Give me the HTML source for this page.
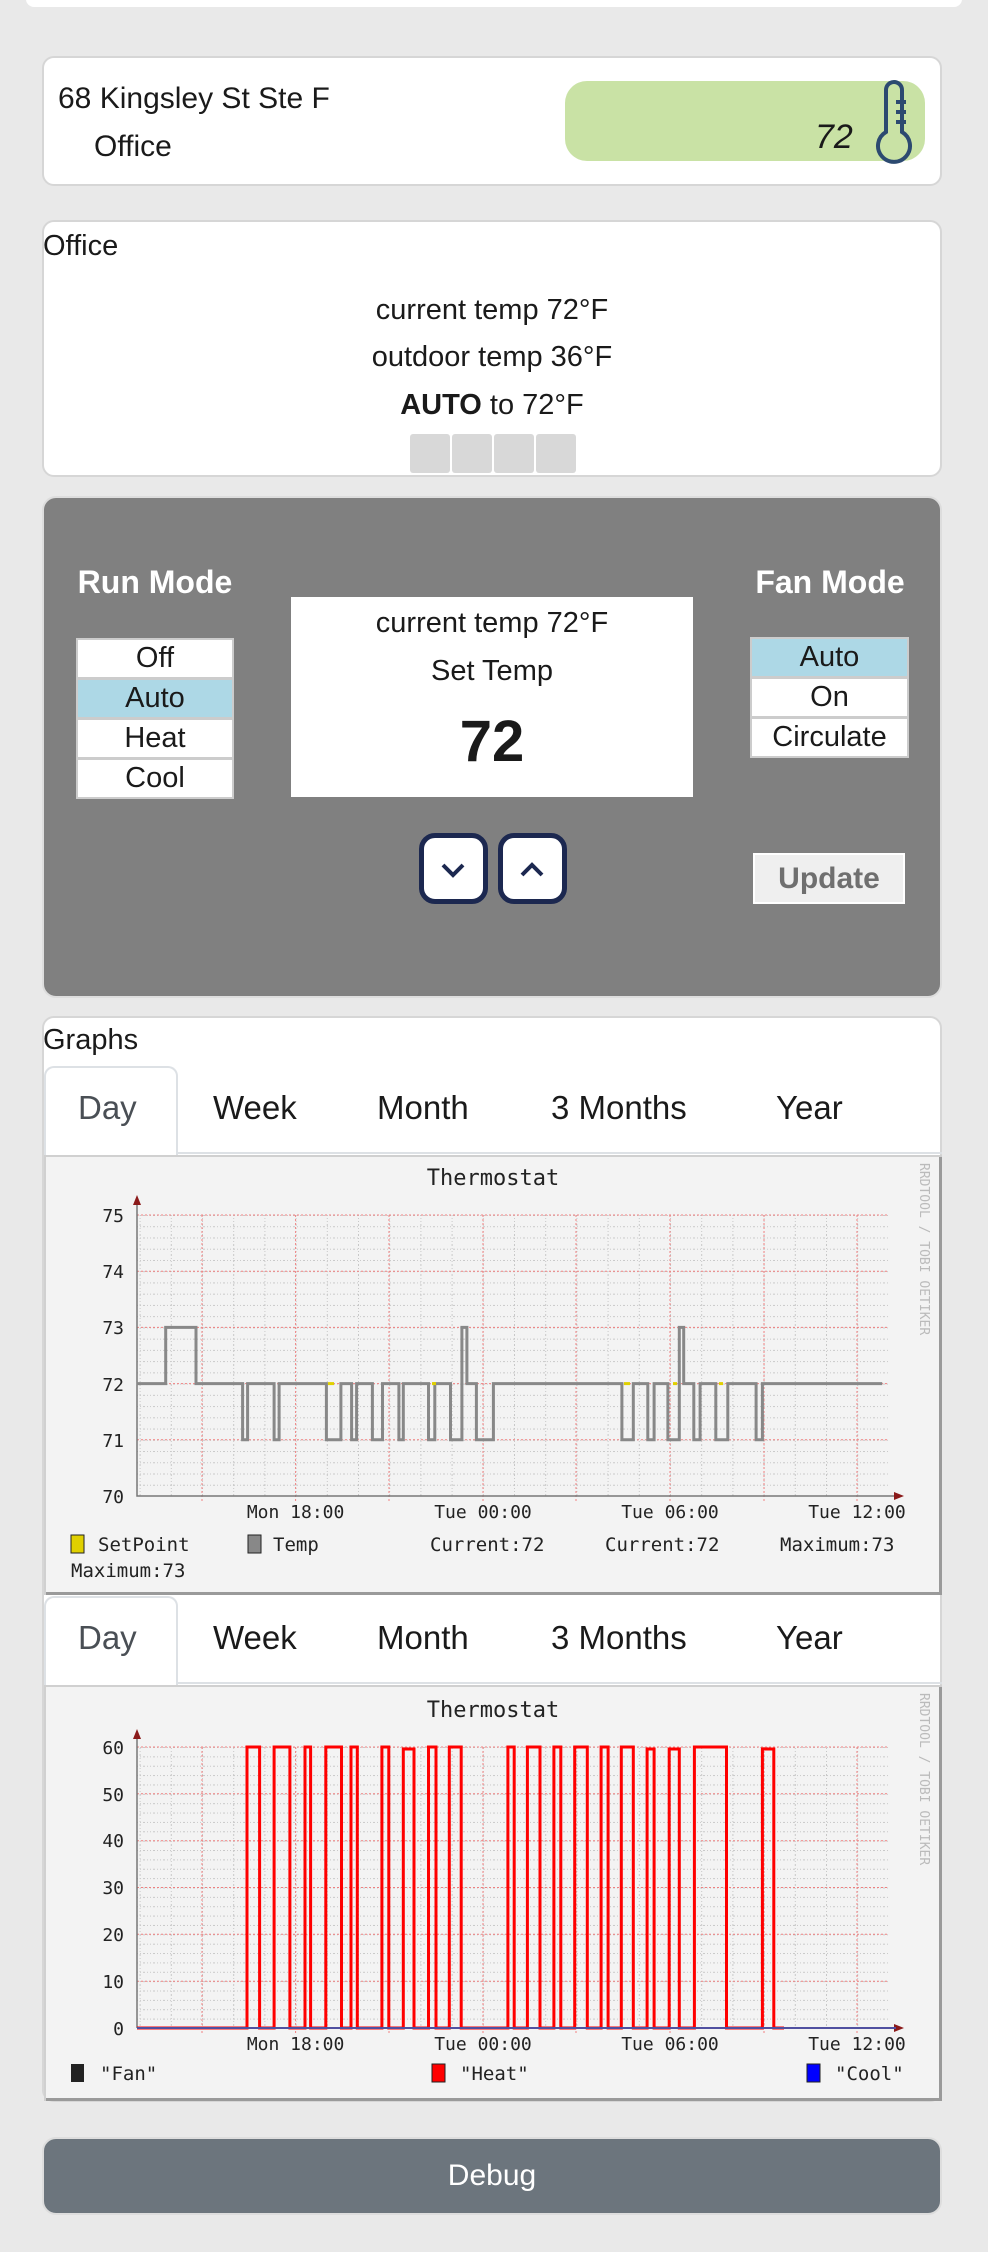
<!DOCTYPE html>
<html><head><meta charset="utf-8"><style>
*{margin:0;padding:0;box-sizing:border-box}
body{width:988px;height:2252px;background:#e9e9e9;position:relative;overflow:hidden;font-family:"Liberation Sans",sans-serif;color:#1a1a1a}
.a{position:absolute}
.card{position:absolute;background:#fff;border:2px solid #d6d6d6;border-radius:12px}
.t{position:absolute;white-space:nowrap}
.c{text-align:center}
.lst{position:absolute;background:#ccc;padding:2px}
.lst div{background:#fff;height:37px;margin-bottom:3px;text-align:center;font-size:29px;line-height:37px}
.lst div:last-child{margin-bottom:0}
.lst .s{background:#add8e6}
.arrow{position:absolute;width:69px;height:71px;background:#fff;border:5px solid #1c2850;border-radius:16px}
.tab{position:absolute;font-size:33px;top:1089px}
</style></head><body>
<div class="a" style="left:26px;top:-10px;width:936px;height:17px;background:#fff;border-radius:8px"></div>

<div class="card" style="left:42px;top:56px;width:900px;height:130px"></div>
<div class="t" style="left:58px;top:82px;font-size:30px">68 Kingsley St Ste F</div>
<div class="t" style="left:94px;top:130px;font-size:30px">Office</div>
<div class="a" style="left:565px;top:81px;width:360px;height:80px;background:#c9e2a5;border-radius:22px"></div>
<div class="t" style="left:815px;top:118px;font-size:34px;font-style:italic">72</div>
<svg class="a" style="left:868px;top:78px" width="46" height="86" viewBox="0 0 46 86"><path d="M18 54 V12 a8 8 0 0 1 16 0 V54 a16 16 0 1 1 -16 0 Z" fill="none" stroke="#2c4a70" stroke-width="4"/><path d="M28 24 H38 M28 34 H38 M28 44 H38" stroke="#2c4a70" stroke-width="4"/></svg>

<div class="card" style="left:42px;top:220px;width:900px;height:257px"></div>
<div class="t" style="left:43px;top:230px;font-size:29px">Office</div>
<div class="t c" style="left:42px;width:900px;top:294px;font-size:29px">current temp 72°F</div>
<div class="t c" style="left:42px;width:900px;top:341px;font-size:29px">outdoor temp 36°F</div>
<div class="t c" style="left:42px;width:900px;top:389px;font-size:29px"><b>AUTO</b> to 72°F</div>
<div class="a" style="left:410px;top:434px;width:40px;height:39px;background:#d8d8d8;border-radius:3px"></div>
<div class="a" style="left:452px;top:434px;width:40px;height:39px;background:#d8d8d8;border-radius:3px"></div>
<div class="a" style="left:494px;top:434px;width:40px;height:39px;background:#d8d8d8;border-radius:3px"></div>
<div class="a" style="left:536px;top:434px;width:40px;height:39px;background:#d8d8d8;border-radius:3px"></div>

<div class="a" style="left:42px;top:496px;width:900px;height:502px;background:#808080;border:2px solid #ddd;border-radius:14px"></div>
<div class="t c" style="left:55px;width:200px;top:564px;font-size:32px;font-weight:bold;color:#fff">Run Mode</div>
<div class="t c" style="left:730px;width:200px;top:564px;font-size:32px;font-weight:bold;color:#fff">Fan Mode</div>
<div class="lst" style="left:76px;top:638px;width:158px"><div>Off</div><div class="s">Auto</div><div>Heat</div><div>Cool</div></div>
<div class="lst" style="left:750px;top:637px;width:159px"><div class="s">Auto</div><div>On</div><div>Circulate</div></div>
<div class="a" style="left:291px;top:597px;width:402px;height:200px;background:#fff"></div>
<div class="t c" style="left:291px;width:402px;top:607px;font-size:29px">current temp 72°F</div>
<div class="t c" style="left:291px;width:402px;top:655px;font-size:29px">Set Temp</div>
<div class="t c" style="left:291px;width:402px;top:708px;font-size:58px;font-weight:bold">72</div>
<div class="arrow" style="left:419px;top:833px"></div>
<div class="arrow" style="left:498px;top:833px"></div>
<svg class="a" style="left:419px;top:833px" width="150" height="71"><path d="M24 32 L34 42 L44 32" fill="none" stroke="#1c2850" stroke-width="4"/><path d="M103 42 L113 32 L123 42" fill="none" stroke="#1c2850" stroke-width="4"/></svg>
<div class="a c" style="left:753px;top:853px;width:152px;height:51px;background:#efefef;border:2px solid #fff;font-size:30px;font-weight:bold;color:#6f6f6f;line-height:48px">Update</div>

<div class="card" style="left:42px;top:1016px;width:900px;height:1086px"></div>
<div class="t" style="left:43px;top:1024px;font-size:29px">Graphs</div>
<div class="a" style="left:44px;top:1066px;width:134px;height:90px;border:2px solid #dde1e5;border-bottom:none;border-radius:10px 10px 0 0;background:#fff"></div>
<div class="tab" style="left:78px;color:#4a4f55">Day</div>
<div class="tab" style="left:213px">Week</div>
<div class="tab" style="left:377px">Month</div>
<div class="tab" style="left:551px">3 Months</div>
<div class="tab" style="left:776px">Year</div>
<div class="a" style="left:178px;top:1152px;width:764px;height:2px;background:#dde1e5"></div>

<div class="a" style="left:44px;top:1596px;width:134px;height:90px;border:2px solid #dde1e5;border-bottom:none;border-radius:10px 10px 0 0;background:#fff"></div>
<div class="tab" style="left:78px;top:1619px;color:#4a4f55">Day</div>
<div class="tab" style="left:213px;top:1619px">Week</div>
<div class="tab" style="left:377px;top:1619px">Month</div>
<div class="tab" style="left:551px;top:1619px">3 Months</div>
<div class="tab" style="left:776px;top:1619px">Year</div>
<div class="a" style="left:178px;top:1682px;width:764px;height:2px;background:#dde1e5"></div>

<!-- Chart 1 -->
<svg class="a" style="left:44px;top:1155px" width="898" height="440" font-family="'DejaVu Sans Mono','Liberation Mono',monospace">
<defs>
<pattern id="h1" x="0" y="60" width="10" height="11.24" patternUnits="userSpaceOnUse"><line x1="0" y1="0.5" x2="10" y2="0.5" stroke="#c8c8c8" stroke-dasharray="1 2"/></pattern>
<pattern id="v1" x="95.6" y="0" width="31.2" height="10" patternUnits="userSpaceOnUse"><line x1="0.5" y1="0" x2="0.5" y2="10" stroke="#c8c8c8" stroke-dasharray="1 2"/></pattern>
</defs>
<rect x="0" y="0" width="898" height="440" fill="#f3f3f3"/>
<path d="M896.5 0 V438.5 H0" fill="none" stroke="#9a9a9a" stroke-width="3"/>
<path d="M1 440 V1 H898" fill="none" stroke="#d0d0d0" stroke-width="2"/>
<rect x="93" y="60" width="751" height="281" fill="url(#h1)"/>
<rect x="93" y="60" width="751" height="281" fill="url(#v1)"/>
<g stroke="#f08080" stroke-dasharray="2 2" stroke-width="1">
<line x1="93" y1="60" x2="844" y2="60"/><line x1="93" y1="116.2" x2="844" y2="116.2"/><line x1="93" y1="172.4" x2="844" y2="172.4"/><line x1="93" y1="228.6" x2="844" y2="228.6"/><line x1="93" y1="284.8" x2="844" y2="284.8"/>
<line x1="158" y1="60" x2="158" y2="346"/><line x1="251.6" y1="60" x2="251.6" y2="346"/><line x1="345" y1="60" x2="345" y2="346"/><line x1="439" y1="60" x2="439" y2="346"/><line x1="532" y1="60" x2="532" y2="346"/><line x1="626" y1="60" x2="626" y2="346"/><line x1="720" y1="60" x2="720" y2="346"/><line x1="813" y1="60" x2="813" y2="346"/>
</g>
<path d="M93 48 V341 H852" fill="none" stroke="#777" stroke-width="1.5"/>
<path d="M89 50 L93 40 L97 50Z M850 337 L860 341 L850 345Z" fill="#8b1a1a"/>
<text x="449" y="30" font-size="22" text-anchor="middle" fill="#222">Thermostat</text>
<g font-size="18" text-anchor="end" fill="#222"><text x="80" y="67">75</text><text x="80" y="123">74</text><text x="80" y="179">73</text><text x="80" y="236">72</text><text x="80" y="292">71</text><text x="80" y="348">70</text></g>
<g font-size="18" text-anchor="middle" fill="#222"><text x="251.6" y="363">Mon 18:00</text><text x="439" y="363">Tue 00:00</text><text x="626" y="363">Tue 06:00</text><text x="813" y="363">Tue 12:00</text></g>
<path d="M92.7 228.6 H121.7 V172.4 H152 V228.6 H198.6 V284.8 H203.6 V228.6 H230.1 V284.8 H235.1 V228.6 H282.4 V284.8 H296.9 V228.6 H307.6 V284.8 H312.6 V228.6 H328.4 V284.8 H338.5 V228.6 H354.9 V284.8 H359.3 V228.6 H384.5 V284.8 H390.8 V228.6 H406.5 V284.8 H417.9 V172.4 H422.9 V228.6 H432.4 V284.8 H449.4 V228.6 H577.9 V284.8 H589.3 V228.6 H603.8 V284.8 H610.1 V228.6 H623.9 V284.8 H635.3 V172.4 H639.7 V228.6 H649.8 V284.8 H656.1 V228.6 H671.8 V284.8 H683.8 V228.6 H712.1 V284.8 H718.4 V228.6 H838.2" fill="none" stroke="#888" stroke-width="3"/>
<g stroke="#e0d000" stroke-width="3"><line x1="284" y1="228.6" x2="290" y2="228.6"/><line x1="388" y1="228.6" x2="392" y2="228.6"/><line x1="580" y1="228.6" x2="586" y2="228.6"/><line x1="629" y1="228.6" x2="633" y2="228.6"/><line x1="675" y1="228.6" x2="679" y2="228.6"/></g>
<g font-size="19" fill="#222"><rect x="27" y="380" width="13" height="18" fill="#e0d000" stroke="#222"/><text x="54" y="396">SetPoint</text>
<rect x="204" y="380" width="13" height="18" fill="#888" stroke="#222"/><text x="229" y="396">Temp</text>
<text x="386" y="396">Current:72</text><text x="561" y="396">Current:72</text><text x="736" y="396">Maximum:73</text><text x="27" y="422">Maximum:73</text></g>
<text transform="translate(876,8) rotate(90)" font-size="13" fill="#bbb">RRDTOOL / TOBI OETIKER</text>
</svg>

<!-- Chart 2 -->
<svg class="a" style="left:44px;top:1685px" width="898" height="416" font-family="'DejaVu Sans Mono','Liberation Mono',monospace">
<defs>
<pattern id="h2" x="0" y="62" width="10" height="9.366" patternUnits="userSpaceOnUse"><line x1="0" y1="0.5" x2="10" y2="0.5" stroke="#c8c8c8" stroke-dasharray="1 2"/></pattern>
<pattern id="v2" x="95.6" y="0" width="31.2" height="10" patternUnits="userSpaceOnUse"><line x1="0.5" y1="0" x2="0.5" y2="10" stroke="#c8c8c8" stroke-dasharray="1 2"/></pattern>
</defs>
<rect x="0" y="0" width="898" height="416" fill="#f3f3f3"/>
<path d="M896.5 0 V414.5 H0" fill="none" stroke="#9a9a9a" stroke-width="3"/>
<path d="M1 416 V1 H898" fill="none" stroke="#d0d0d0" stroke-width="2"/>
<rect x="93" y="62" width="751" height="281" fill="url(#h2)"/>
<rect x="93" y="62" width="751" height="281" fill="url(#v2)"/>
<g stroke="#f08080" stroke-dasharray="2 2" stroke-width="1">
<line x1="93" y1="62" x2="844" y2="62"/><line x1="93" y1="108.8" x2="844" y2="108.8"/><line x1="93" y1="155.7" x2="844" y2="155.7"/><line x1="93" y1="202.5" x2="844" y2="202.5"/><line x1="93" y1="249.3" x2="844" y2="249.3"/><line x1="93" y1="296.2" x2="844" y2="296.2"/>
<line x1="158" y1="62" x2="158" y2="348"/><line x1="251.6" y1="62" x2="251.6" y2="348"/><line x1="345" y1="62" x2="345" y2="348"/><line x1="439" y1="62" x2="439" y2="348"/><line x1="532" y1="62" x2="532" y2="348"/><line x1="626" y1="62" x2="626" y2="348"/><line x1="720" y1="62" x2="720" y2="348"/><line x1="813" y1="62" x2="813" y2="348"/>
</g>
<path d="M93 52 V343" fill="none" stroke="#777" stroke-width="1.5"/>
<path d="M89 54 L93 44 L97 54Z M850 339 L860 343 L850 347Z" fill="#8b1a1a"/>
<text x="449" y="32" font-size="22" text-anchor="middle" fill="#222">Thermostat</text>
<g font-size="18" text-anchor="end" fill="#222"><text x="80" y="69">60</text><text x="80" y="116">50</text><text x="80" y="162">40</text><text x="80" y="209">30</text><text x="80" y="256">20</text><text x="80" y="303">10</text><text x="80" y="350">0</text></g>
<g font-size="18" text-anchor="middle" fill="#222"><text x="251.6" y="365">Mon 18:00</text><text x="439" y="365">Tue 00:00</text><text x="626" y="365">Tue 06:00</text><text x="813" y="365">Tue 12:00</text></g>
<path d="M93 343 H203 V62 H215.6 V343 H230.1 V62 H245.9 V343 H261 V62 H266.6 V343 H281.8 V62 H297.5 V343 H307 V62 H313.3 V343 H337.9 V62 H344.8 V343 H359.3 V64 H370 V343 H384.5 V62 H392 V343 H405.3 V62 H417.2 V343 H463.9 V62 H470.2 V343 H483.4 V62 H496 V343 H509.9 V62 H516.8 V343 H530.7 V62 H543.3 V343 H557.1 V62 H564.1 V343 H577.3 V62 H589.3 V343 H603.1 V64 H610.1 V343 H625.2 V64 H635.3 V343 H650.4 V62 H682.5 V343 H718.4 V64 H729.8 V343 H740" fill="none" stroke="#f00" stroke-width="3"/>
<line x1="93" y1="343" x2="852" y2="343" stroke="#5050a0" stroke-width="2"/>
<g font-size="19" fill="#222"><rect x="27" y="379" width="13" height="18" fill="#222"/><text x="56" y="395">"Fan"</text>
<rect x="388" y="379" width="13" height="18" fill="#f00" stroke="#222"/><text x="416" y="395">"Heat"</text>
<rect x="763" y="379" width="13" height="18" fill="#00f" stroke="#222"/><text x="791" y="395">"Cool"</text></g>
<text transform="translate(876,8) rotate(90)" font-size="13" fill="#bbb">RRDTOOL / TOBI OETIKER</text>
</svg>

<div class="a c" style="left:42px;top:2137px;width:900px;height:78px;background:#6c757d;border:2px solid #ddd;border-radius:14px;color:#fff;font-size:30px;line-height:74px">Debug</div>
</body></html>
